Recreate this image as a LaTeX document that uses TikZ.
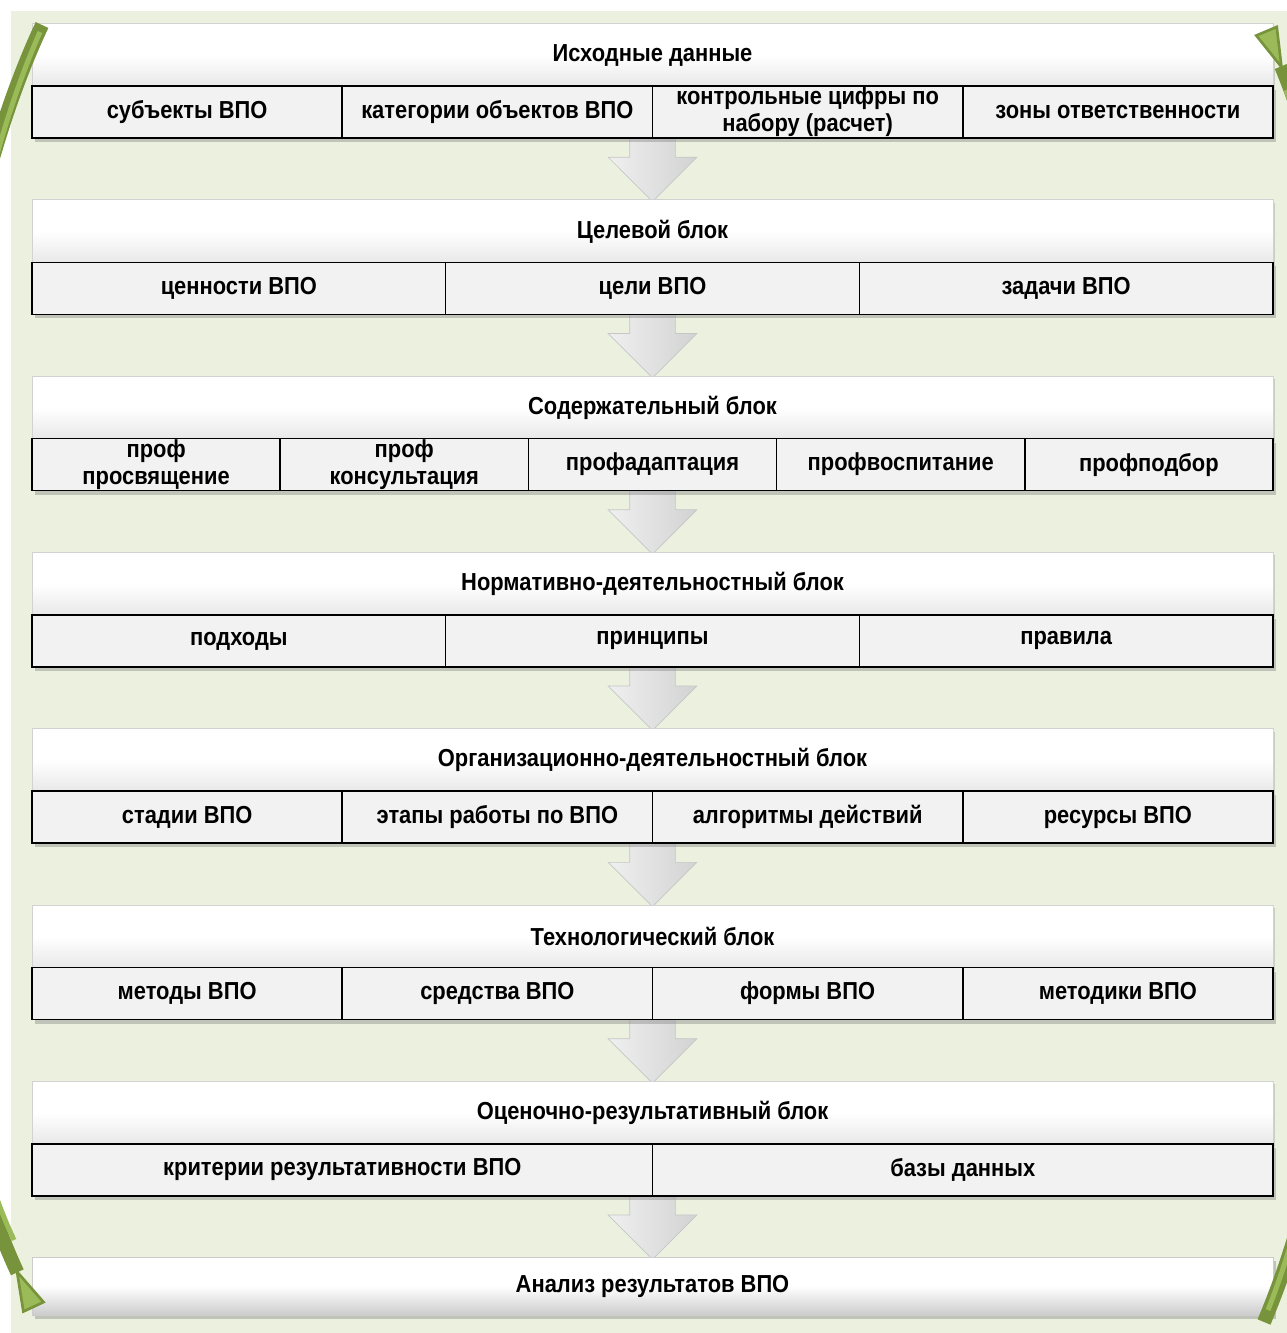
\documentclass[tikz,border=0pt]{standalone}
\usepackage{fontspec}
\setmainfont{Liberation Sans}[FakeStretch=0.89]
\usetikzlibrary{positioning,shapes.arrows,shadows,arrows.meta}

\definecolor{bggreen}{HTML}{EBF1DE}
\definecolor{leafdark}{HTML}{77933C}
\definecolor{leaflight}{HTML}{9BBB59}
\definecolor{cellgray}{HTML}{F2F2F2}

\tikzset{
	txt/.style={font=\fontsize{14}{15.3}\selectfont\bfseries},
	header/.style={txt, minimum width=1241*0.02cm, minimum height=63*0.02cm, inner sep=0pt,
		top color=white, bottom color=gray!18, middle color=white, draw=gray!35,
		drop shadow={shadow xshift=0.04cm, shadow yshift=-0.06cm, opacity=0.3}},
	cell/.style={txt, draw=black, line width=0.9pt, fill=cellgray, minimum height=52*0.02cm,
		inner sep=0pt, align=center,
		drop shadow={shadow xshift=0.06cm, shadow yshift=-0.08cm, opacity=0.4}},
	finalbar/.style={txt, minimum width=1241*0.02cm, minimum height=58*0.02cm, inner sep=0pt,
		top color=white, bottom color=gray!40, middle color=white, draw=gray!40,
		drop shadow={shadow xshift=0.06cm, shadow yshift=-0.08cm, opacity=0.4}},
	downarrow/.style={single arrow, rotate=-90, anchor=tip, minimum height=80*0.02cm,
		minimum width=88*0.02cm, inner xsep=0pt, inner ysep=22.5*0.02cm,
		single arrow head extend=21.5*0.02cm, single arrow tip angle=90,
		left color=gray!12, right color=gray!35, draw=gray!45},
	leaf/.style={leafdark, line width=14*0.02cm},
	leafhi/.style={leaflight, line width=5*0.02cm}
}

\begin{document}
\begin{tikzpicture}[x=0.02cm,y=-0.02cm]
	\useasboundingbox (0,0) rectangle (1287,1333);
	\fill[bggreen] (11,11) rectangle (1287,1333);
	
	\foreach \k in {1,...,7} {
		\node[downarrow] (a\k) at (652.5, {202+176.3*(\k-1)}) {};
	}
	
	\foreach \t [count=\k] in {Исходные данные, Целевой блок, Содержательный блок,
		Нормативно-деятельностный блок, Организационно-деятельностный блок,
		Технологический блок, Оценочно-результативный блок} {
		\node[header] (h\k) at (652.5, {55+176.3*(\k-1)}) {\t};
	}
	
	\foreach \t [count=\i] in {субъекты ВПО, категории объектов ВПО,
		{контрольные цифры по\\набору (расчет)}, зоны ответственности}
		\node[cell, minimum width=310.25*0.02cm] (c1-\i) at ({32+310.25*(\i-0.5)}, 112) {\t};
	
	\foreach \t [count=\i] in {ценности ВПО, цели ВПО, задачи ВПО}
		\node[cell, minimum width=413.67*0.02cm] (c2-\i) at ({32+413.67*(\i-0.5)}, 288.3) {\t};
	
	\foreach \t [count=\i] in {{проф\\просвящение}, {проф\\консультация}, профадаптация,
		профвоспитание, профподбор}
		\node[cell, minimum width=248.2*0.02cm] (c3-\i) at ({32+248.2*(\i-0.5)}, 464.6) {\t};
	
	\foreach \t [count=\i] in {подходы, принципы, правила}
		\node[cell, minimum width=413.67*0.02cm] (c4-\i) at ({32+413.67*(\i-0.5)}, 640.9) {\t};
	
	\foreach \t [count=\i] in {стадии ВПО, этапы работы по ВПО, алгоритмы действий, ресурсы ВПО}
		\node[cell, minimum width=310.25*0.02cm] (c5-\i) at ({32+310.25*(\i-0.5)}, 817.2) {\t};
	
	\foreach \t [count=\i] in {методы ВПО, средства ВПО, формы ВПО, методики ВПО}
		\node[cell, minimum width=310.25*0.02cm] (c6-\i) at ({32+310.25*(\i-0.5)}, 993.5) {\t};
	
	\foreach \t [count=\i] in {критерии результативности ВПО, базы данных}
		\node[cell, minimum width=620.5*0.02cm] (c7-\i) at ({32+620.5*(\i-0.5)}, 1169.8) {\t};
	
	\node[finalbar] (res) at (652.5, 1286) {Анализ результатов ВПО};
	
	\begin{scope}
		\clip (0,0) rectangle (1287,1333);
		\draw[leaf, -{Triangle[reversed, length=0.9cm, width=0.5cm, line width=1.5pt, fill=leaflight]}]
			(42,25) .. controls (-110,350) and (-110,1000) .. (34,1308);
		\draw[leafhi] (40,32) .. controls (-100,350) and (-100,1000) .. (14,1240);
		\draw[leaf, -{Triangle[reversed, length=0.9cm, width=0.5cm, line width=1.5pt, fill=leaflight]}]
			(1264,1322) .. controls (1400,1000) and (1400,350) .. (1266,30);
		\draw[leafhi] (1268,1310) .. controls (1390,1000) and (1390,350) .. (1286,90);
	\end{scope}
\end{tikzpicture}
\end{document}
